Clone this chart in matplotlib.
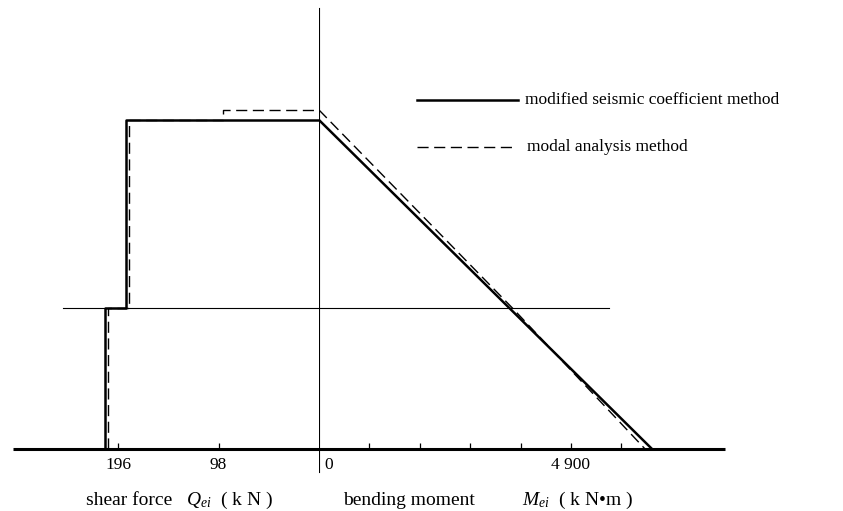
import matplotlib
matplotlib.use("Agg")
import matplotlib.pyplot as plt

# Fonts: serif text, italic maths in the same family
plt.rcParams['font.family'] = ['Liberation Serif', 'DejaVu Serif']
plt.rcParams['mathtext.fontset'] = 'custom'
plt.rcParams['mathtext.rm'] = 'Liberation Serif'
plt.rcParams['mathtext.it'] = 'Liberation Serif:italic'

# Level heights (m): base, middle floor, top
heights = [0, 4.5, 10.5]
dashed_top = 10.82  # top of the modal analysis outline sits a little higher

# Shear force (kN) - modified seismic coefficient method
shear_solid_h = [0, 4.5, 4.5, 10.5, 10.5]
shear_solid_q = [209, 209, 188, 188, 0]
# Shear force (kN) - modal analysis method
shear_dash_h = [0, 4.5, 4.5, 10.5, 10.5, dashed_top, dashed_top]
shear_dash_q = [206, 206, 185, 185, 94, 94, 0]

# Bending moment (kN*m)
moment_solid_h = [heights[2], heights[1], heights[0]]
moment_solid_m = [0, 3700, 6475]
moment_dash_h = [dashed_top, heights[1], heights[0]]
moment_dash_m = [0, 3760, 6340]

# Tick marks on the base line
shear_ticks = [196, 98]
moment_ticks = [980, 1960, 2940, 3920, 4900, 5880]
moment_labels = {4900: '4 900'}

fs = 12.5      # tick labels and legend
fs_cap = 14    # captions under the axis
fig = plt.figure(figsize=(8.43, 5.11), dpi=100)

# Left half for shear (drawn to the left), right half for moment
ax_q = fig.add_axes([0, 0, 319 / 843, 1])
ax_m = fig.add_axes([319 / 843, 0, 524 / 843, 1])
ylim = (-1.98, 14.33)
ax_q.set_xlim(311.1, 0)
ax_m.set_xlim(0, 10189)
for ax in (ax_q, ax_m):
    ax.set_ylim(*ylim)
    ax.axis('off')

# Base line (thick)
ax_q.plot([298, 0], [0, 0], color='black', lw=2.2, solid_capstyle='butt')
ax_m.plot([0, 7894], [0, 0], color='black', lw=2.2, solid_capstyle='butt')

# Vertical reference axis
ax_m.plot([0, 0], [-0.73, 14.07], color='black', lw=0.8)

# Thin middle floor line
ax_q.plot([250, 0], [heights[1], heights[1]], color='black', lw=0.8)
ax_m.plot([0, 5639], [heights[1], heights[1]], color='black', lw=0.8)

# Small ticks pointing up from the base line
ax_q.vlines(shear_ticks, 0, 0.2, color='black', lw=0.9)
ax_m.vlines(moment_ticks, 0, 0.2, color='black', lw=0.9)

# Shear diagrams
ax_q.plot(shear_solid_q, shear_solid_h, color='black', lw=1.8)
ax_q.plot(shear_dash_q, shear_dash_h, color='black', lw=1.0, dashes=(8, 4))

# Moment diagrams
ax_m.plot(moment_solid_m, moment_solid_h, color='black', lw=1.8)
ax_m.plot(moment_dash_m, moment_dash_h, color='black', lw=1.0, dashes=(8, 4))

# Tick labels
for t in shear_ticks:
    ax_q.text(t, -0.5, str(t), ha='center', va='center', fontsize=fs)
ax_m.text(100, -0.5, '0', ha='left', va='center', fontsize=fs)
for t, lab in moment_labels.items():
    ax_m.text(t, -0.5, lab, ha='center', va='center', fontsize=fs)

# Axis captions
ax_q.text(227, -1.63, 'shear force', ha='left', va='center', fontsize=fs_cap, clip_on=False)
ax_q.text(130, -1.63, r'$Q_{ei}$  ( k N )', ha='left', va='center', fontsize=fs_cap, clip_on=False)
ax_m.text(467, -1.63, 'bending moment', ha='left', va='center', fontsize=fs_cap, clip_on=False)
ax_m.text(3947, -1.63, r'$M_{ei}$  ( k N•m )', ha='left', va='center', fontsize=fs_cap, clip_on=False)

# Legend drawn by hand
ax_m.plot([1906, 3870], [11.14, 11.14], color='black', lw=1.8)
ax_m.text(4005, 11.14, 'modified seismic coefficient method', ha='left', va='center', fontsize=fs)
ax_m.plot([1906, 3811], [9.64, 9.64], color='black', lw=1.0, dashes=(8, 4))
ax_m.text(4044, 9.64, 'modal analysis method', ha='left', va='center', fontsize=fs)

fig.savefig('out.png', dpi=100)
